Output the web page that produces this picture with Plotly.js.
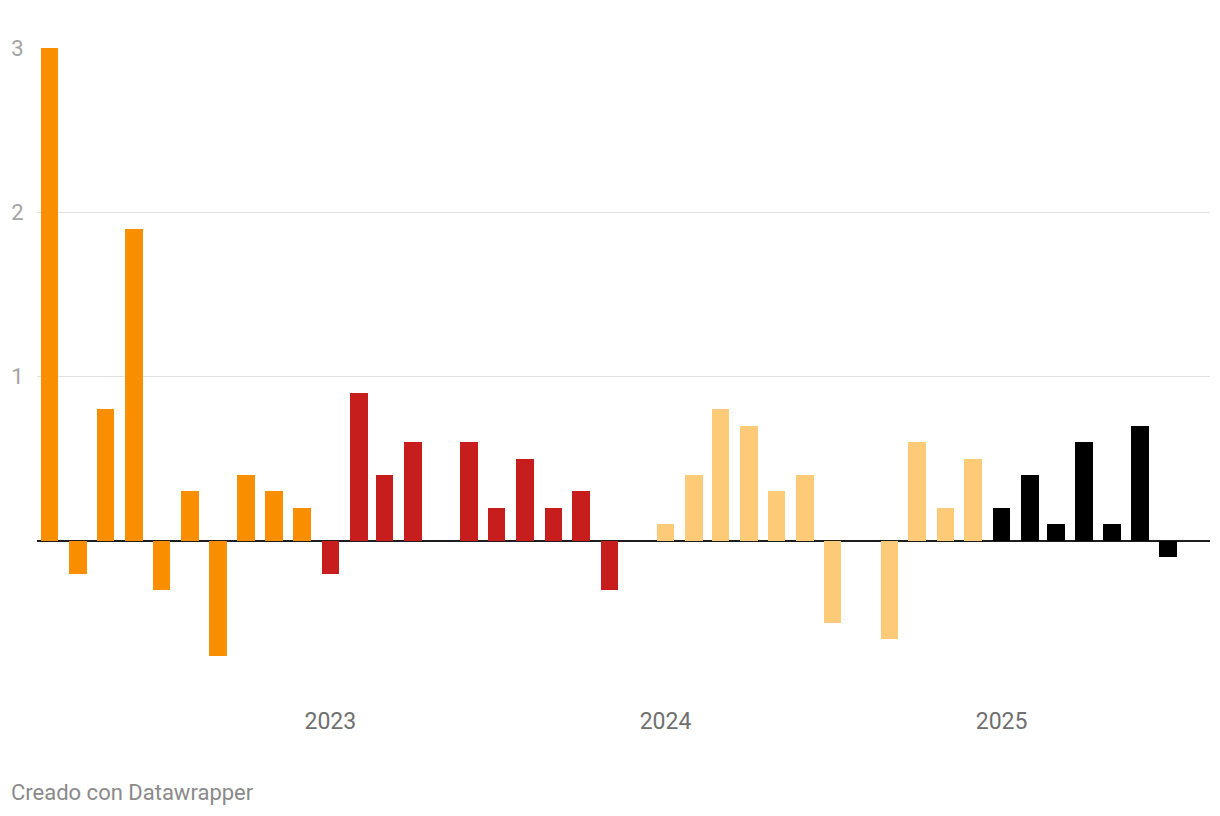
<!DOCTYPE html>
<html>
<head>
<meta charset="utf-8">
<script src="https://cdn.plot.ly/plotly-3.0.1.min.js"></script>
<style>
html,body{margin:0;padding:0;background:#fff;}
#chart{width:1220px;height:816px;}
</style>
</head>
<body>
<div id="chart"></div>
<script>
// Monthly values (%), March 2022 – July 2025
const months = [
  '2022-03','2022-04','2022-05','2022-06','2022-07','2022-08','2022-09','2022-10','2022-11','2022-12',
  '2023-01','2023-02','2023-03','2023-04','2023-05','2023-06','2023-07','2023-08','2023-09','2023-10','2023-11','2023-12',
  '2024-01','2024-02','2024-03','2024-04','2024-05','2024-06','2024-07','2024-08','2024-09','2024-10','2024-11','2024-12',
  '2025-01','2025-02','2025-03','2025-04','2025-05','2025-06','2025-07'
];
const values = [
  3.0, -0.2, 0.8, 1.9, -0.3, 0.3, -0.7, 0.4, 0.3, 0.2,
  -0.2, 0.9, 0.4, 0.6, 0.0, 0.6, 0.2, 0.5, 0.2, 0.3, -0.3, 0.0,
  0.1, 0.4, 0.8, 0.7, 0.3, 0.4, -0.5, 0.0, -0.6, 0.6, 0.2, 0.5,
  0.2, 0.4, 0.1, 0.6, 0.1, 0.7, -0.1
];
const yearTickVals = ['2023-01-01','2024-01-01','2025-01-01'];
const yearTickText = ['2023','2024','2025'];
const yTickVals = [1, 2, 3];
const yTickText = ['1','2','3'];

const yearColors = {'2022':'#f98e00','2023':'#c71e1d','2024':'#fdca78','2025':'#000000'};
const colors = months.map(m => yearColors[m.slice(0,4)]);
const DAY = 86400000;

const trace = {
  type: 'bar',
  x: months.map(m => m + '-01'),
  y: values,
  marker: {color: colors, line: {width: 0}},
  width: months.map(() => 19.3 * DAY),
  hoverinfo: 'none'
};

const layout = {
  width: 1220, height: 816,
  margin: {l: 37, r: 10, t: 48, b: 111},
  paper_bgcolor: '#fff', plot_bgcolor: '#fff',
  font: {family: 'Roboto, sans-serif'},
  showlegend: false,
  bargap: 0,
  xaxis: {
    type: 'date',
    range: ['2022-02-15 12:00', '2025-08-16'],
    tickvals: yearTickVals,
    ticktext: yearTickText,
    showgrid: false,
    zeroline: false,
    showline: false,
    ticks: '',
    tickfont: {size: 23, color: '#707070'}
  },
  yaxis: {
    range: [-1, 3],
    tickvals: yTickVals,
    ticktext: yTickText,
    showgrid: true,
    gridcolor: '#e0e0e0',
    gridwidth: 1.5,
    zeroline: true,
    zerolinecolor: '#1d1d1d',
    zerolinewidth: 2,
    showline: false,
    ticks: 'outside',
    ticklen: 8,
    tickcolor: 'rgba(0,0,0,0)',
    tickfont: {size: 22, color: '#a3a3a3'}
  },
  annotations: [{
    text: 'Creado con Datawrapper',
    xref: 'paper', yref: 'paper',
    x: -28/1173, y: (705-792)/657,
    xanchor: 'left', yanchor: 'middle',
    showarrow: false,
    font: {size: 22, color: '#8a8a8a', family: 'Roboto, sans-serif'}
  }]
};

Plotly.newPlot('chart', [trace], layout, {displayModeBar: false, staticPlot: true});
</script>
</body>
</html>
